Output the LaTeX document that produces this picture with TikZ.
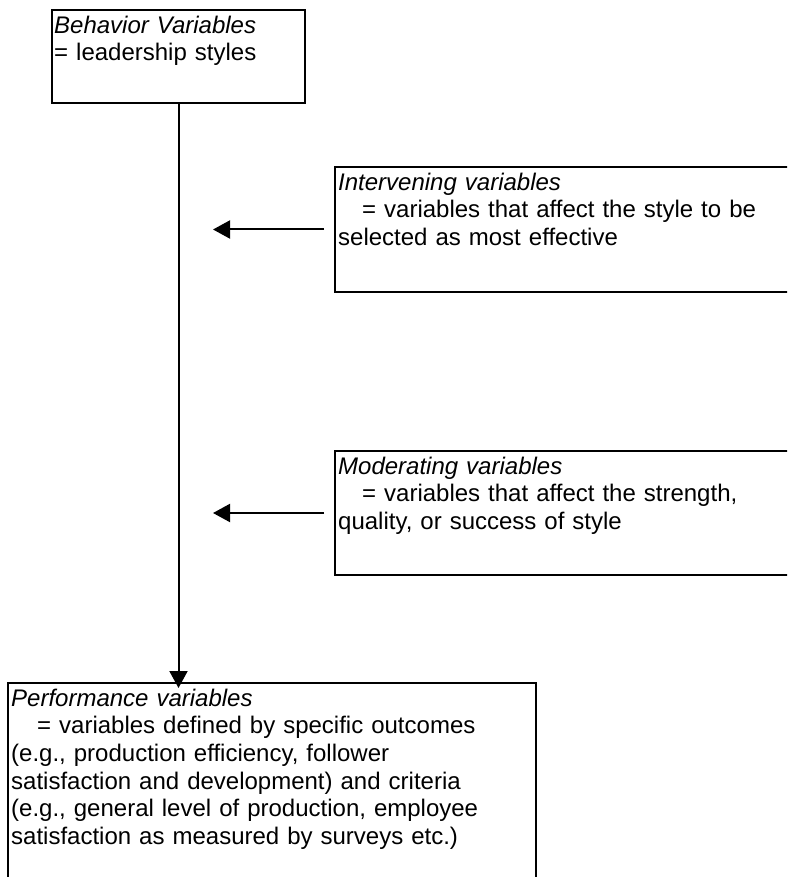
\documentclass[tikz,border=0pt]{standalone}
\usepackage{fontspec}
\setmainfont{Liberation Sans}
\usetikzlibrary{arrows.meta}
\begin{document}
\begin{tikzpicture}[x=1pt,y=-1pt,
  box/.style={draw, line width=2.2pt, inner sep=0pt, outer sep=0pt, anchor=north west},
  lbl/.style={anchor=north west, inner sep=0pt, align=left, text width=600pt,
              font=\fontsize{24pt}{27.6pt}\selectfont},
  conn/.style={line width=2pt, -{Triangle[length=17pt,width=18pt]}}]
\useasboundingbox (0,0) rectangle (787,877);
\clip (0,0) rectangle (787,877);
\fill[white] (0,0) rectangle (787,877);
% boxes
\node[box, minimum width=253pt, minimum height=93pt] (B) at (52,10) {};
\node[box, minimum width=500pt, minimum height=125pt] (I) at (335,167) {};
\node[box, minimum width=500pt, minimum height=124pt] (M) at (335,451) {};
\node[box, minimum width=528pt, minimum height=300pt] (P) at (8,683) {};
% texts
\node[lbl] (Bt) at ([xshift=2pt,yshift=-5pt]B.north west)
  {\rule{0pt}{18pt}\textit{Behavior Variables}\\= leadership styles};
\node[lbl] (It) at ([xshift=3pt,yshift=-5pt]I.north west)
  {\rule{0pt}{18pt}\textit{Intervening variables}\\\hspace*{24pt}= variables that affect the style to be\\selected as most effective};
\node[lbl] (Mt) at ([xshift=3pt,yshift=-5pt]M.north west)
  {\rule{0pt}{18pt}\textit{Moderating variables}\\\hspace*{24pt}= variables that affect the strength,\\quality, or success of style};
\node[lbl] (Pt) at ([xshift=3pt,yshift=-5pt]P.north west)
  {\rule{0pt}{18pt}\textit{Performance variables}\\\hspace*{26pt}= variables defined by specific outcomes\\(e.g., production efficiency, follower\\satisfaction and development) and criteria\\(e.g., general level of production, employee\\satisfaction as measured by surveys etc.)};
% connectors
\coordinate (Itip) at (213,229.5);
\coordinate (Mtip) at (213,513);
\draw[conn] ([xshift=-11pt]I.west) -- (Itip);
\draw[conn] ([xshift=-11pt]M.west) -- (Mtip);
\draw[conn] (B.south) -- ([yshift=-5pt]B.south |- P.north);
\end{tikzpicture}
\end{document}
